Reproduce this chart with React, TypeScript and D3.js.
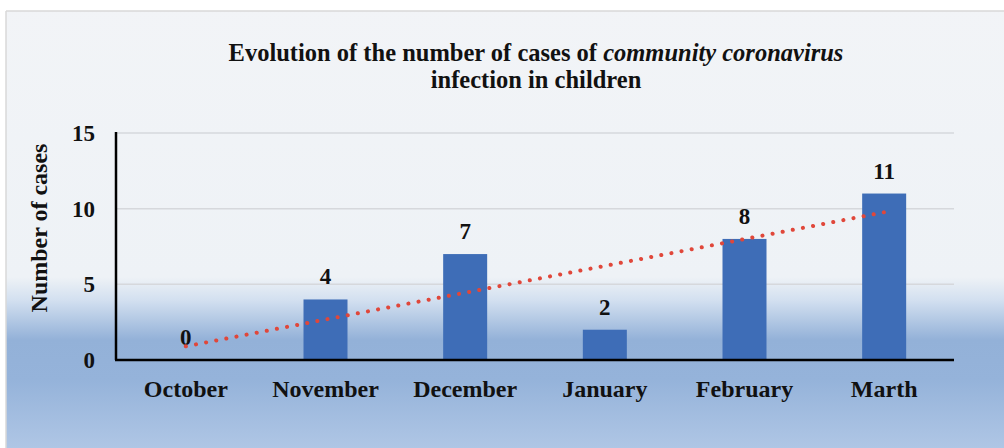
import React from "react";
import * as d3 from "d3";

const months = ["October", "November", "December", "January", "February", "Marth"];
const cases = [0, 4, 7, 2, 8, 11];
const yTicks = [0, 5, 10, 15];

const W = 1004;
const H = 448;
const FONT = "'Liberation Serif', 'Times New Roman', serif";

const margin = { left: 116, right: 50, top: 133, bottom: 88 };

// background shading stops, as [y in px, colour]
const bgStops: [number, string][] = [
  [0, "#f2f4f7"],
  [277, "#eef2f6"],
  [300, "#d3e0f0"],
  [340, "#93b1d8"],
  [380, "#95b3da"],
  [448, "#afc6e5"],
];

export default function App() {
  const x = d3
    .scaleBand<string>()
    .domain(months)
    .range([margin.left, W - margin.right])
    .paddingInner(0.685)
    .paddingOuter(0.3425);
  const y = d3.scaleLinear().domain([0, 15]).range([H - margin.bottom, margin.top]);

  // least-squares linear trend over the month index
  const idx = cases.map((_, i) => i);
  const mx = d3.mean(idx)!;
  const my = d3.mean(cases)!;
  const slope =
    d3.sum(idx, (i) => (i - mx) * (cases[i] - my)) / d3.sum(idx, (i) => (i - mx) * (i - mx));
  const icpt = my - slope * mx;
  const trend = d3
    .line<number>()
    .x((i) => x(months[i])! + x.bandwidth() / 2)
    .y((i) => y(icpt + slope * i));

  const x0 = margin.left;
  const x1 = W - margin.right;

  return (
    <div style={{ position: "fixed", left: 0, top: 0 }}>
      <svg width={W} height={H} style={{ display: "block" }}>
        <defs>
          <linearGradient id="bg" x1="0" y1="0" x2="0" y2="1">
            {bgStops.map(([p, c]) => (
              <stop key={p} offset={p / H} stopColor={c} />
            ))}
          </linearGradient>
        </defs>
        <rect x={0} y={0} width={W} height={H} fill="url(#bg)" />
        <rect x={0} y={0} width={W} height={11} fill="#ffffff" />
        <rect x={0} y={0} width={6} height={H} fill="#ffffff" />
        <line x1={6} x2={W} y1={11} y2={11} stroke="#d9d9d9" strokeWidth={1.5} />
        <line x1={6} x2={6} y1={11} y2={H} stroke="#d9d9d9" strokeWidth={1.5} />

        {/* title */}
        <text x={536} y={61} textAnchor="middle" fontFamily={FONT} fontWeight="bold" fontSize={24.5} fill="#111">
          Evolution of the number of cases of <tspan fontStyle="italic">community coronavirus</tspan>
        </text>
        <text x={536} y={88} textAnchor="middle" fontFamily={FONT} fontWeight="bold" fontSize={24.5} fill="#111">
          infection in children
        </text>

        {/* gridlines */}
        {yTicks.filter((t) => t > 0).map((t) => (
          <line key={t} x1={x0} x2={x1} y1={y(t)} y2={y(t)} stroke="#d6d8dc" strokeWidth={1.5} />
        ))}

        {/* y tick labels */}
        {yTicks.map((t) => (
          <text key={t} x={95} y={y(t)} dy="0.35em" textAnchor="end" fontFamily={FONT} fontWeight="bold" fontSize={23} fill="#111">
            {t}
          </text>
        ))}

        {/* y axis title */}
        <text
          transform={`translate(47,${228}) rotate(-90)`}
          textAnchor="middle"
          fontFamily={FONT}
          fontWeight="bold"
          fontSize={24}
          fill="#111"
        >
          Number of cases
        </text>

        {/* bars */}
        {months.map((m, i) => (
          <rect key={m} x={x(m)} y={y(cases[i])} width={x.bandwidth()} height={y(0) - y(cases[i])} fill="#3e6db7" />
        ))}

        {/* value labels */}
        {months.map((m, i) => (
          <text key={m} x={x(m)! + x.bandwidth() / 2} y={y(cases[i]) - 15} textAnchor="middle" fontFamily={FONT} fontWeight="bold" fontSize={23} fill="#111">
            {cases[i]}
          </text>
        ))}

        {/* trend line */}
        <path d={trend(idx)!} fill="none" stroke="#e0473a" strokeWidth={4} strokeLinecap="round" strokeDasharray="0.1 10.2" />

        {/* axes */}
        <line x1={x0} x2={x0} y1={y(15) - 1} y2={y(0)} stroke="#000" strokeWidth={2.5} />
        <line x1={x0 - 1} x2={x1} y1={y(0)} y2={y(0)} stroke="#000" strokeWidth={2.5} />

        {/* category labels */}
        {months.map((m) => (
          <text key={m} x={x(m)! + x.bandwidth() / 2} y={397} textAnchor="middle" fontFamily={FONT} fontWeight="bold" fontSize={24} fill="#111">
            {m}
          </text>
        ))}
      </svg>
    </div>
  );
}
